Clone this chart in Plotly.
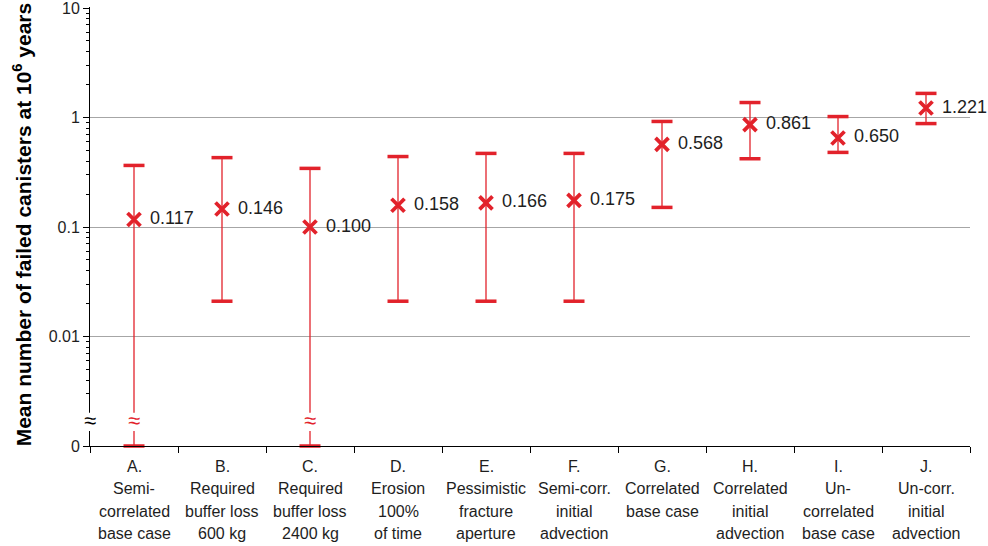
import plotly.graph_objects as go

# ---------------- data ----------------
categories = [
    "A.<br>Semi-<br>correlated<br>base case",
    "B.<br>Required<br>buffer loss<br>600 kg",
    "C.<br>Required<br>buffer loss<br>2400 kg",
    "D.<br>Erosion<br>100%<br>of time",
    "E.<br>Pessimistic<br>fracture<br>aperture",
    "F.<br>Semi-corr.<br>initial<br>advection",
    "G.<br>Correlated<br>base case",
    "H.<br>Correlated<br>initial<br>advection",
    "I.<br>Un-<br>correlated<br>base case",
    "J.<br>Un-corr.<br>initial<br>advection",
]
mean_values = [0.117, 0.146, 0.100, 0.158, 0.166, 0.175, 0.568, 0.861, 0.650, 1.221]
upper_values = [0.365, 0.43, 0.343, 0.44, 0.47, 0.47, 0.92, 1.37, 1.02, 1.66]
lower_values = [0, 0.021, 0, 0.021, 0.021, 0.021, 0.151, 0.42, 0.48, 0.88]

y_tick_values = [0.001, 0.01, 0.1, 1, 10]
y_tick_labels = ["0", "0.01", "0.1", "1", "10"]
ZERO_POS = 0.001  # "0" drawn at the broken-axis position

# --------------- styling ---------------
RED = "#E2222B"
TXT = "#1e1e1e"
FONT = "Liberation Sans, Arial, Helvetica, sans-serif"

x = list(range(len(categories)))
lower_plot = [v if v > 0 else ZERO_POS for v in lower_values]

fig = go.Figure()

# error bar stems
fig.add_trace(go.Scatter(
    x=x, y=mean_values, mode="markers",
    marker=dict(size=1, color="rgba(0,0,0,0)"),
    error_y=dict(type="data", symmetric=False,
                 array=[u - m for u, m in zip(upper_values, mean_values)],
                 arrayminus=[m - l for m, l in zip(mean_values, lower_plot)],
                 color=RED, thickness=1.3, width=0),
    showlegend=False, hoverinfo="skip",
))

# caps
fig.add_trace(go.Scatter(
    x=x + x, y=upper_values + lower_plot, mode="markers",
    marker=dict(symbol="line-ew", size=15, line=dict(color=RED, width=3.5)),
    showlegend=False, hoverinfo="skip", cliponaxis=False,
))

# means
fig.add_trace(go.Scatter(
    x=x, y=mean_values, mode="markers",
    marker=dict(symbol="x-thin", size=13, line=dict(color=RED, width=3.8)),
    showlegend=False, hoverinfo="skip",
))

# value labels (invisible wide marker gives the gap to the cross)
fig.add_trace(go.Scatter(
    x=x, y=mean_values, mode="markers+text",
    marker=dict(size=24, color="rgba(0,0,0,0)"),
    text=["%.3f" % v for v in mean_values],
    textposition="middle right",
    textfont=dict(family=FONT, size=18, color=TXT),
    showlegend=False, hoverinfo="skip", cliponaxis=False,
))

# category labels (one annotation per line)
annotations = []
for i, lab in enumerate(categories):
    for j, line in enumerate(lab.split("<br>")):
        annotations.append(dict(
            x=i, xref="x", y=0, yref="paper",
            yshift=-20 - j * 22.6, text=line, showarrow=False,
            xanchor="center", yanchor="middle",
            font=dict(family=FONT, size=16, color=TXT),
        ))

# axis break symbols
annotations.append(dict(x=0, xref="paper", y=0.059, yref="paper", text="≈",
                        showarrow=False, xanchor="center", yanchor="middle",
                        font=dict(family=FONT, size=22, color="black")))
for i, v in enumerate(lower_values):
    if v == 0:
        annotations.append(dict(x=i, xref="x", y=0.059, yref="paper", text="≈",
                                showarrow=False, xanchor="center", yanchor="middle",
                                font=dict(family=FONT, size=22, color=RED)))

# y-axis title
annotations.append(dict(
    x=0, xref="paper", xshift=-68, y=0.505, yref="paper",
    text="<b>Mean number of failed canisters at 10<sup>6</sup> years</b>",
    textangle=-90, showarrow=False, xanchor="center", yanchor="middle",
    font=dict(family=FONT, size=21, color="black"),
))

minor_vals = [m * 10 ** k for k in range(-3, 1) for m in range(2, 10)
              if m * 10 ** k > 0.0025]

fig.update_layout(
    width=988, height=546,
    margin=dict(l=90, r=18, t=7, b=100, autoexpand=False),
    paper_bgcolor="white", plot_bgcolor="white",
    annotations=annotations,
    shapes=[dict(type="rect", xref="paper", yref="paper",
                 x0=-0.012, x1=0.30, y0=0.034, y1=0.076,
                 fillcolor="white", line=dict(width=0), layer="above")],
    xaxis=dict(range=[-0.5, 9.5], tickvals=[i - 0.5 for i in range(len(categories) + 1)],
               showticklabels=False, ticks="outside", ticklen=6, tickcolor="black",
               showline=True, linecolor="black", linewidth=1, showgrid=False,
               zeroline=False, automargin=False),
    yaxis=dict(type="log", range=[-3, 1.0091], tickvals=y_tick_values, ticktext=y_tick_labels,
               ticks="outside", ticklen=6, tickcolor="black", ticklabeloverflow="allow",
               showline=True, linecolor="black", linewidth=1, automargin=False,
               showgrid=True, gridcolor="#a6a6a6", gridwidth=1, zeroline=False,
               tickfont=dict(family=FONT, size=16, color=TXT),
               minor=dict(tickvals=minor_vals, ticks="outside", ticklen=3,
                          tickcolor="black", showgrid=False)),
)

fig.write_html("out.html", config={"displayModeBar": False},
               post_script="document.body.style.margin='0';")
